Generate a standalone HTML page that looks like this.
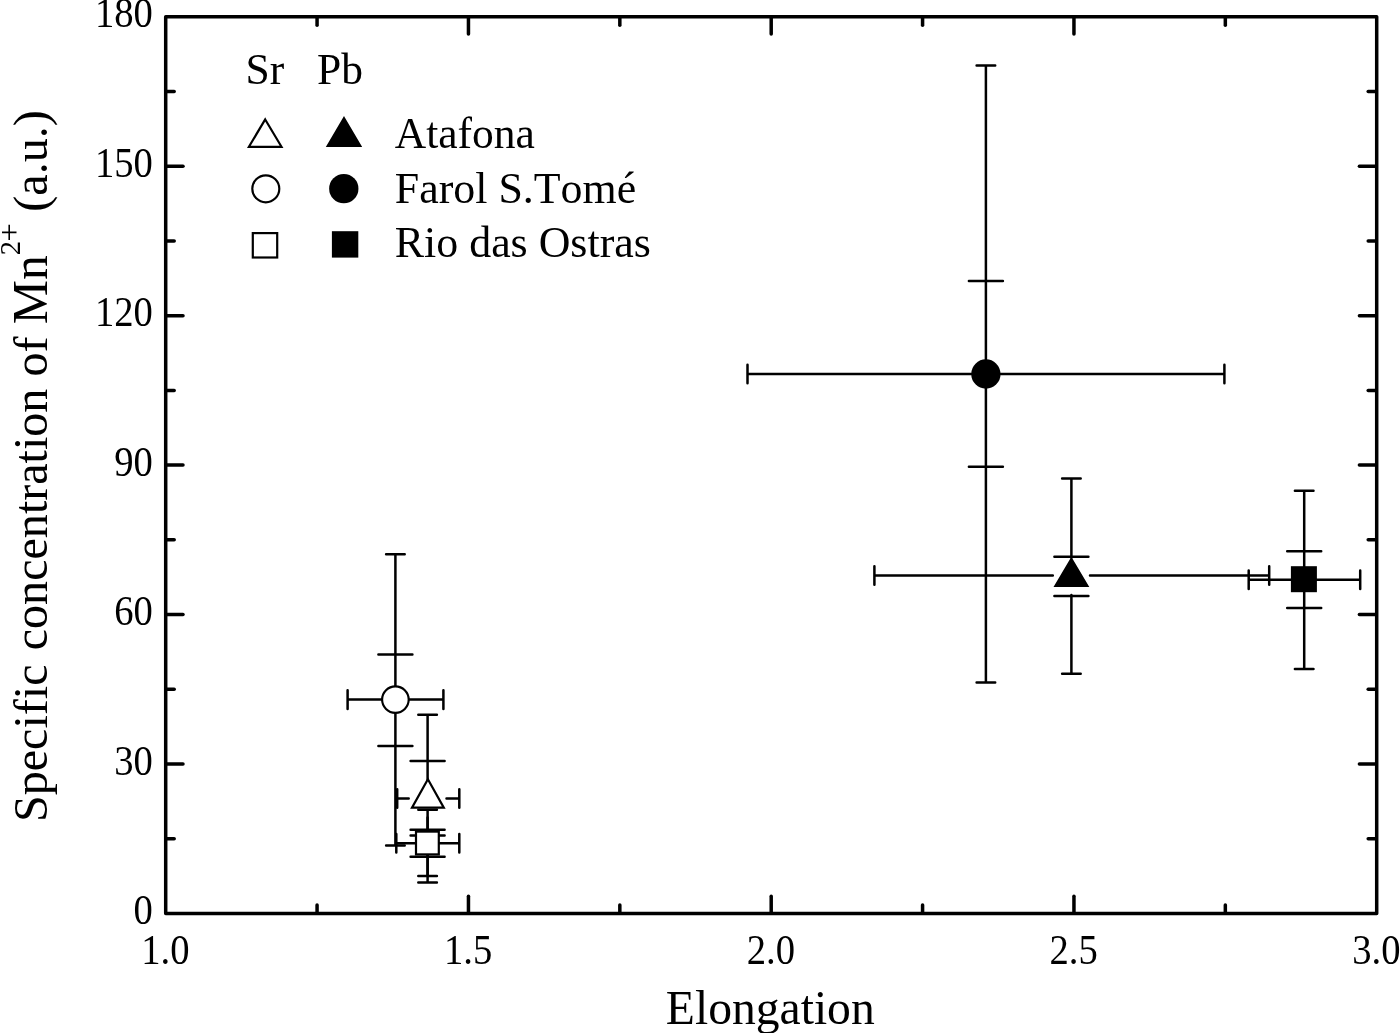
<!DOCTYPE html>
<html lang="en"><head><meta charset="utf-8"><title>Specific concentration of Mn2+ vs Elongation</title>
<style>html,body{margin:0;padding:0;background:#fff}body{width:1400px;height:1033px;overflow:hidden}svg{display:block;will-change:transform}text{font-family:'Liberation Serif','Times New Roman',Times,serif;fill:#000;font-kerning:none;font-variant-ligatures:none;font-feature-settings:"kern" 0,"liga" 0}</style></head><body>
<svg width="1400" height="1033" viewBox="0 0 1400 1033">
<rect x="0" y="0" width="1400" height="1033" fill="#fff"/>
<g stroke="#000" stroke-width="3.50" stroke-linecap="round" fill="none">
<line x1="317.07" y1="912.80" x2="317.07" y2="905.00"/>
<line x1="317.07" y1="17.44" x2="317.07" y2="25.24"/>
<line x1="468.45" y1="912.80" x2="468.45" y2="896.20"/>
<line x1="468.45" y1="17.44" x2="468.45" y2="34.04"/>
<line x1="619.83" y1="912.80" x2="619.83" y2="905.00"/>
<line x1="619.83" y1="17.44" x2="619.83" y2="25.24"/>
<line x1="771.20" y1="912.80" x2="771.20" y2="896.20"/>
<line x1="771.20" y1="17.44" x2="771.20" y2="34.04"/>
<line x1="922.58" y1="912.80" x2="922.58" y2="905.00"/>
<line x1="922.58" y1="17.44" x2="922.58" y2="25.24"/>
<line x1="1073.95" y1="912.80" x2="1073.95" y2="896.20"/>
<line x1="1073.95" y1="17.44" x2="1073.95" y2="34.04"/>
<line x1="1225.33" y1="912.80" x2="1225.33" y2="905.00"/>
<line x1="1225.33" y1="17.44" x2="1225.33" y2="25.24"/>
<line x1="166.40" y1="838.77" x2="174.20" y2="838.77"/>
<line x1="1376.00" y1="838.77" x2="1368.20" y2="838.77"/>
<line x1="166.40" y1="764.04" x2="183.00" y2="764.04"/>
<line x1="1376.00" y1="764.04" x2="1359.40" y2="764.04"/>
<line x1="166.40" y1="689.31" x2="174.20" y2="689.31"/>
<line x1="1376.00" y1="689.31" x2="1368.20" y2="689.31"/>
<line x1="166.40" y1="614.58" x2="183.00" y2="614.58"/>
<line x1="1376.00" y1="614.58" x2="1359.40" y2="614.58"/>
<line x1="166.40" y1="539.85" x2="174.20" y2="539.85"/>
<line x1="1376.00" y1="539.85" x2="1368.20" y2="539.85"/>
<line x1="166.40" y1="465.12" x2="183.00" y2="465.12"/>
<line x1="1376.00" y1="465.12" x2="1359.40" y2="465.12"/>
<line x1="166.40" y1="390.39" x2="174.20" y2="390.39"/>
<line x1="1376.00" y1="390.39" x2="1368.20" y2="390.39"/>
<line x1="166.40" y1="315.66" x2="183.00" y2="315.66"/>
<line x1="1376.00" y1="315.66" x2="1359.40" y2="315.66"/>
<line x1="166.40" y1="240.93" x2="174.20" y2="240.93"/>
<line x1="1376.00" y1="240.93" x2="1368.20" y2="240.93"/>
<line x1="166.40" y1="166.20" x2="183.00" y2="166.20"/>
<line x1="1376.00" y1="166.20" x2="1359.40" y2="166.20"/>
<line x1="166.40" y1="91.47" x2="174.20" y2="91.47"/>
<line x1="1376.00" y1="91.47" x2="1368.20" y2="91.47"/>
</g>
<rect x="165.70" y="16.74" width="1211.00" height="896.76" fill="none" stroke="#000" stroke-width="3.50" stroke-linejoin="round"/>
<g font-size="41.2">
<text x="152.80" y="924.20" text-anchor="end" textLength="19.30" lengthAdjust="spacingAndGlyphs">0</text>
<text x="152.80" y="774.74" text-anchor="end" textLength="38.60" lengthAdjust="spacingAndGlyphs">30</text>
<text x="152.80" y="625.28" text-anchor="end" textLength="38.60" lengthAdjust="spacingAndGlyphs">60</text>
<text x="152.80" y="475.82" text-anchor="end" textLength="38.60" lengthAdjust="spacingAndGlyphs">90</text>
<text x="152.80" y="326.36" text-anchor="end" textLength="57.90" lengthAdjust="spacingAndGlyphs">120</text>
<text x="152.80" y="176.90" text-anchor="end" textLength="57.90" lengthAdjust="spacingAndGlyphs">150</text>
<text x="152.80" y="27.44" text-anchor="end" textLength="57.90" lengthAdjust="spacingAndGlyphs">180</text>
<text x="165.40" y="963.50" text-anchor="middle" textLength="48.25" lengthAdjust="spacingAndGlyphs">1.0</text>
<text x="468.15" y="963.50" text-anchor="middle" textLength="48.25" lengthAdjust="spacingAndGlyphs">1.5</text>
<text x="770.90" y="963.50" text-anchor="middle" textLength="48.25" lengthAdjust="spacingAndGlyphs">2.0</text>
<text x="1073.65" y="963.50" text-anchor="middle" textLength="48.25" lengthAdjust="spacingAndGlyphs">2.5</text>
<text x="1376.40" y="963.50" text-anchor="middle" textLength="48.25" lengthAdjust="spacingAndGlyphs">3.0</text>
</g>
<text x="770.3" y="1023.7" font-size="47.6" text-anchor="middle">Elongation</text>
<text transform="translate(46.90 822.10) rotate(-90)" font-size="48.1">Specific</text>
<text transform="translate(46.90 650.30) rotate(-90)" font-size="48.1">concentration of</text>
<text transform="translate(46.90 324.20) rotate(-90)" font-size="49.6">Mn</text>
<text transform="translate(20.40 255.20) rotate(-90)" font-size="28.5">2</text>
<text transform="translate(20.30 241.50) rotate(-90)" font-size="32.6">+</text>
<text transform="translate(46.90 211.70) rotate(-90)" font-size="48.1">(a.u.)</text>
<g stroke="#000" stroke-width="2.50" stroke-linecap="round" fill="none">
<path d="M347.60 699.60H443.40M347.60 690.30V708.90M443.40 690.30V708.90M395.40 554.30V845.60M386.10 554.30H404.70M386.10 845.60H404.70M378.40 654.50H412.40M378.40 746.00H412.40"/>
</g>
<circle cx="395.40" cy="699.60" r="13.30" fill="#fff" stroke="#000" stroke-width="2.15"/>
<g stroke="#000" stroke-width="2.50" stroke-linecap="round" fill="none">
<path d="M397.20 798.50H408.70M446.50 798.50H459.30M397.20 789.20V807.80M459.30 789.20V807.80M427.60 714.80V779.60M427.60 817.40V882.50M418.30 714.80H436.90M418.30 882.50H436.90M410.60 761.10H444.60M410.60 835.60H444.60"/>
</g>
<polygon points="427.90,779.30 443.80,807.60 412.00,807.60" fill="#fff" stroke="#000" stroke-width="2.2" stroke-linejoin="miter"/>
<g stroke="#000" stroke-width="2.50" stroke-linecap="round" fill="none">
<path d="M396.30 843.20H459.30M396.30 833.90V852.50M459.30 833.90V852.50M427.60 809.80V876.00M418.30 809.80H436.90M418.30 876.00H436.90M410.60 829.80H444.60M410.60 856.70H444.60"/>
</g>
<rect x="416.00" y="831.60" width="22.80" height="22.80" fill="#fff" stroke="#000" stroke-width="2.2"/>
<g stroke="#000" stroke-width="2.50" stroke-linecap="round" fill="none">
<path d="M747.50 374.00H1224.40M747.50 364.70V383.30M1224.40 364.70V383.30M985.90 65.60V682.40M976.60 65.60H995.20M976.60 682.40H995.20M968.90 281.10H1002.90M968.90 466.70H1002.90"/>
<path d="M874.40 575.50H1052.80M1090.00 575.50H1269.20M874.40 566.20V584.80M1269.20 566.20V584.80M1071.40 478.60V557.70M1071.40 594.90V673.80M1062.10 478.60H1080.70M1062.10 673.80H1080.70M1054.40 556.80H1088.40M1054.40 596.00H1088.40"/>
<path d="M1248.70 579.70H1360.20M1248.70 570.40V589.00M1360.20 570.40V589.00M1304.20 490.70V669.00M1294.90 490.70H1313.50M1294.90 669.00H1313.50M1287.20 551.20H1321.20M1287.20 608.00H1321.20"/>
</g>
<circle cx="985.90" cy="374.00" r="14.65" fill="#000"/>
<polygon points="1071.40,558.40 1087.90,586.10 1054.90,586.10" fill="#000" stroke="#000" stroke-width="1.6" stroke-linejoin="miter"/>
<rect x="1290.90" y="566.20" width="26.00" height="26.00" fill="#000"/>
<g font-size="43.5">
<text x="245.6" y="83.8">Sr</text>
<text x="317.0" y="83.8">Pb</text>
<text x="394.8" y="148.2">Atafona</text>
<text x="394.8" y="202.6" font-size="43.9">Farol S.Tomé</text>
<text x="394.8" y="256.9" font-size="43.9">Rio das Ostras</text>
</g>
<polygon points="265.20,119.50 281.50,146.80 248.90,146.80" fill="#fff" stroke="#000" stroke-width="2.2" stroke-linejoin="miter"/>
<polygon points="344.00,117.70 360.80,146.30 327.20,146.30" fill="#000" stroke="#000" stroke-width="1.6" stroke-linejoin="miter"/>
<circle cx="265.80" cy="188.80" r="13.50" fill="#fff" stroke="#000" stroke-width="2.15"/>
<circle cx="343.80" cy="188.70" r="14.65" fill="#000"/>
<rect x="252.80" y="233.10" width="24.40" height="24.40" fill="#fff" stroke="#000" stroke-width="2.2"/>
<rect x="331.90" y="231.20" width="26.40" height="26.40" fill="#000"/>
</svg></body></html>
